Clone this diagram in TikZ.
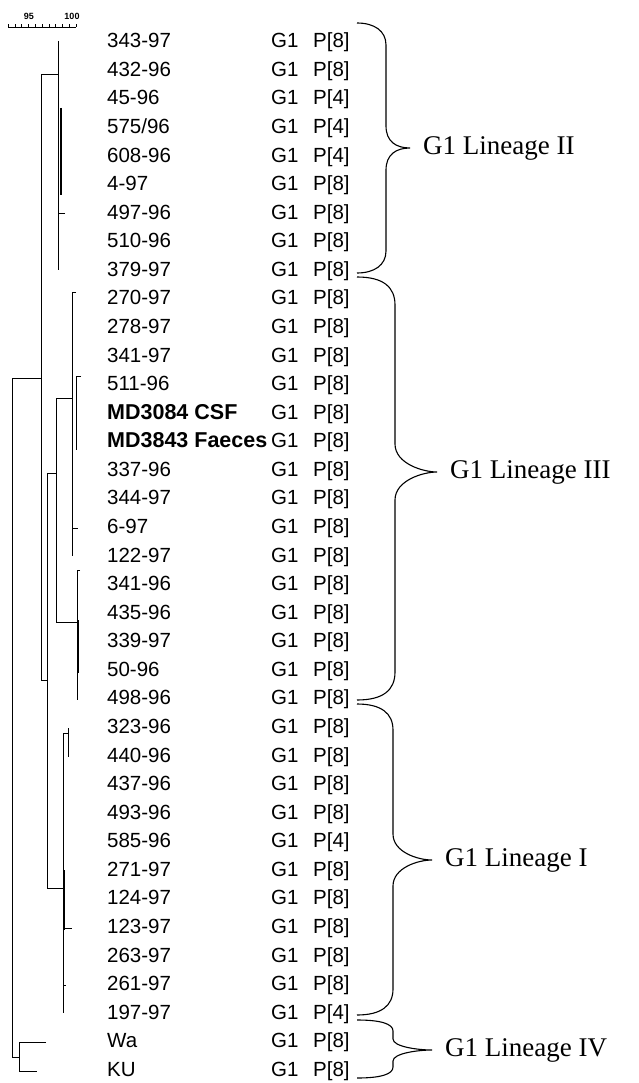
\documentclass[tikz,border=0pt]{standalone}
\usepackage{fontspec}
\setmainfont{Liberation Serif}
\setsansfont{Liberation Sans}
\usetikzlibrary{positioning}
% curly bracket: top y, tip y, bottom y, body x, tip x, curl
\newcommand{\linbrace}[6]{%
  \draw[bracel] (357,#1) .. controls (#4-12,#1) and (#4,#1+0.35*#6) .. (#4,#1+#6)
    -- (#4,#2-#6) .. controls (#4,#2-0.3*#6) and (#5-14,#2) .. (#5,#2)
    .. controls (#5-14,#2) and (#4,#2+0.3*#6) .. (#4,#2+#6)
    -- (#4,#3-#6) .. controls (#4,#3-0.35*#6) and (#4-12,#3) .. (357,#3);}

\begin{document}
\begin{tikzpicture}[x=1pt,y=-1pt,
  tree/.style={line width=0.9pt},
  bar/.style={line width=2.2pt},
  strain/.style={anchor=base west,inner sep=0pt,font=\sffamily\fontsize{20.5}{24}\selectfont},
  scalelab/.style={inner sep=0pt,font=\sffamily\bfseries\fontsize{9}{10}\selectfont},
  lin/.style={inner sep=0pt,font=\fontsize{27}{30}\selectfont},
  bracel/.style={line width=1.1pt}]
\useasboundingbox (0,0) rectangle (638,1083);

% scale
\draw[tree,line width=0.6pt] (8,27) -- (76,27);
\foreach \t in {0,...,10}
  \draw[line width=0.5pt] (8+6.8*\t,27) -- (8+6.8*\t,24.5);
\node[scalelab] (s95) at (29,16) {95};
\node[scalelab] (s100) at (72,16) {100};

% strains
\foreach \nm/\pp [count=\i from 0] in {343-97/8,432-96/8,45-96/4,{575/96}/4,608-96/4,4-97/8,497-96/8,510-96/8,379-97/8,
  270-97/8,278-97/8,341-97/8,511-96/8,{\fontsize{21.5}{24}\selectfont\bfseries MD3084 CSF}/8,
  {\fontsize{21.5}{24}\selectfont\bfseries MD3843 Faeces}/8,337-96/8,344-97/8,6-97/8,122-97/8,
  341-96/8,435-96/8,339-97/8,50-96/8,498-96/8,323-96/8,440-96/8,437-96/8,493-96/8,585-96/4,271-97/8,124-97/8,
  123-97/8,263-97/8,261-97/8,197-97/4,Wa/8,KU/8}{
  \node[strain] (s\i) at (107,47.8+28.57*\i) {\nm};
  \node[strain] (g\i) at (271,47.8+28.57*\i) {G1};
  \node[strain] (p\i) at (313,47.8+28.57*\i) {P[\pp]};
}

% dendrogram
\draw[tree] (41,378) -| (12,1057) -- (19,1057);
\draw[tree] (46,1042) -| (19,1071) -- (37,1071);
\draw[tree] (58,74) -| (41,680) -- (47,680);
\draw[tree] (65,213) -- (58,213);
\draw[tree] (58,41) -- (58,270);
\draw[bar] (61,108) -- (61,195);
\draw[tree] (56,473) -| (47,888) -- (63,888);
% lineage III
\draw[tree] (72,398) -| (56,622) -- (77,622);
\draw[tree] (76,292) -| (72,556);
\draw[tree] (72,528) -- (78,528);
\draw[tree] (81,376) -| (76,450);
\draw[tree] (80,570) -| (77,700);
\draw[bar] (78,620) -- (78,673);
% lineage I
\draw[tree] (68,728) -- (68,757);
\draw[tree] (68,733) -| (63,1013);
\draw[bar] (64,870) -- (64,930);
\draw[tree] (63,928) -- (72,928);
\draw[tree] (63,985) -- (66,985);

% lineages
\linbrace{23}{148}{273}{386}{410}{22}
\linbrace{277}{472}{700}{395}{437}{28}
\linbrace{704}{860}{1015}{393}{432}{26}
\linbrace{1020}{1050}{1078}{393}{432}{11}
\coordinate (t2) at (410,148);
\coordinate (t3) at (437,472);
\coordinate (t1) at (432,860);
\coordinate (t4) at (432,1050);
\node[lin,right=13pt of t2] (lin2) {G1 Lineage II};
\node[lin,right=13pt of t3] (lin3) {G1 Lineage III};
\node[lin,right=13pt of t1] (lin1) {G1 Lineage I};
\node[lin,right=13pt of t4] (lin4) {G1 Lineage IV};
\end{tikzpicture}
\end{document}
